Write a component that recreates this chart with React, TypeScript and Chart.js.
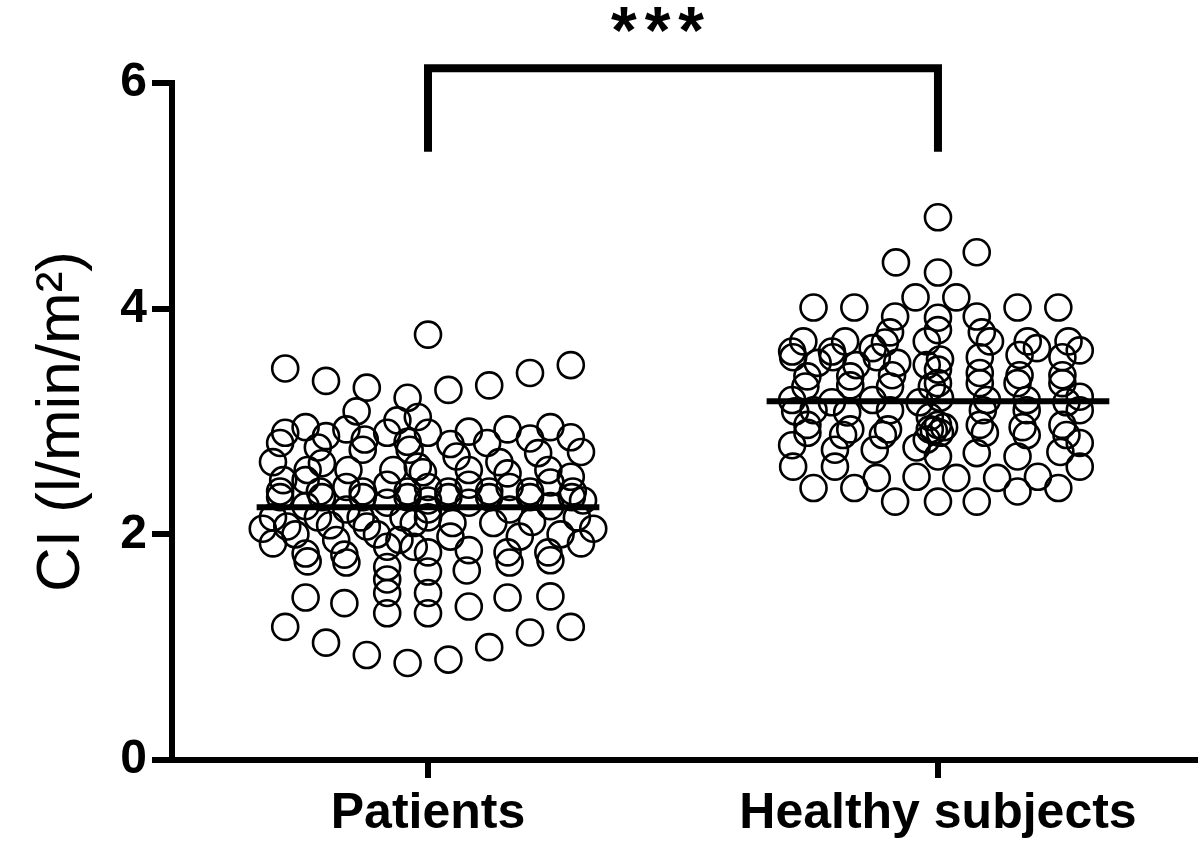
import React, { useEffect, useRef } from "react";
import { Chart, registerables } from "chart.js";

Chart.register(...registerables);

// ---- data ----
const categories = ["Patients", "Healthy subjects"];
const categoryPositions = [0, 25];
const yTicks = [0, 2, 4, 6];
const yTitle = "CI (l/min/m²)";
const significance = ["*", "*", "*"];

// horizontal spread (in dot-column units) and CI values, patients
const patientOffsets = [
  0, -7, -5, -3, -1, 1, 3, 5, 7, -3.5, -1.5, -0.5, -6, -7, -5, -4, -2, -7.25, -7.6, -5.4,
  -3.1, -3.2, -1, -0.9, -7.1, -5.9, -5.2, -3.9, -1.7, -0.5, -7.25, -5.3, -3.2, -1, 2, 3.9,
  6, 7, 7.5, 0, 1.1, 2.9, 5, 5.4, 3.5, 1.4, 2, 3.9, 5.9, -0.25, 7, 1, 3, 5, 7.1, -7.25,
  -5.2, -3.2, -1, 1, 3, 5, 7.05, -7.6, -5.4, -3.3, -1.2, -6.9, -4.8, -3, -0.7, 0, 1.2,
  3.2, 5.1, 7.3, -7.6, -6, -4.1, -2, -1.4, -0.7, 0, -5.9, -4, -2, 0, -2, -6, -4.1, -2, -2,
  0, 0, -7, -5, -3, -1, 7.5, 1.1, 2, 3.9, 5.9, 6, 4, 1.9, 2, 3.9, 6, 7, 5, 3, 1,
  0, 0, -2, 2, -6, 6, -4, 4, 8.1, -8.1, 7.6,
  -6, -4, -2, 0, 2, 4, 6, -6.5, -4.5, -2.5, 4.5, 6.5,
];
const patientValues = [
  3.77, 3.47, 3.36, 3.3, 3.21, 3.28, 3.32, 3.43, 3.5, 3.09, 3.01, 3.04, 2.95, 2.9, 2.87, 2.93, 2.9, 2.81, 2.64, 2.77,
  2.84, 2.75, 2.82, 2.75, 2.48, 2.57, 2.63, 2.57, 2.57, 2.6, 2.38, 2.38, 2.38, 2.38, 2.91, 2.93,
  2.95, 2.86, 2.73, 2.9, 2.8, 2.81, 2.85, 2.72, 2.64, 2.69, 2.57, 2.54, 2.57, 2.55, 2.51, 2.38, 2.38, 2.38, 2.38, 2.33,
  2.33, 2.33, 2.33, 2.33, 2.33, 2.33, 2.33, 2.15, 2.15, 2.15, 2.15, 2.07, 2.08, 2.07, 2.1, 2.15, 2.1,
  2.1, 2.11, 2.15, 1.92, 1.83, 1.82, 1.89, 1.95, 1.89, 1.84, 1.76, 1.75, 1.71, 1.67, 1.6, 1.44, 1.39, 1.48, 1.3,
  1.48, 1.3, 1.18, 1.04, 0.93, 0.86, 1.92, 1.98, 1.86, 1.84, 1.84, 1.77, 1.75, 1.68, 1.36, 1.44, 1.45, 1.18, 1.13, 1.0, 0.89,
  2.3, 2.22, 2.28, 2.28, 2.25, 2.25, 2.22, 2.22, 2.05, 2.05, 2.3,
  2.48, 2.42, 2.44, 2.42, 2.44, 2.42, 2.46, 2.0, 1.95, 2.0, 1.98, 2.0,
];

// horizontal spread and CI values, healthy subjects
const healthyOffsets = [
  0, -2.06, 0, 1.9, -6.1, -4.1, -1.1, 0.9, 3.9, 5.9, -2.1, 0, 1.9, -2.35, 0, 2.15, -6.6, -4.55,
  -2.6, -0.55, 2.55, 4.4, 6.4, -7.15, -5.2, -3.2, 4.85, 6.95, -7.1, -5.15, -3.0, 0.1, 2.05, 4.0,
  6.1, -5.9, -4.0, -2.0, -0.55, 0, -6.4, -4.3, -2.25, 2.05, 4.0, 6.1, -6.5, -4.3, -2.35, -0.3,
  0, 2.05, 3.9, 6.1, -7.15, -5.2, -3.2, -0.9, 0.1, 2.4, 4.35, 6.3, 6.95, -7.0, -6.1, -4.45,
  -2.35, -0.4, 2.2, 4.35, 6.95, -6.4, -6.4, -4.3, -4.65, -2.45, -2.7, -0.4, -0.55, 0, 0.1, 2.05,
  2.3, 4.15, 4.35, 6.1, 6.3, 6.95, -7.15, -5.05, -3.1, -1.05, 0, 1.9, 3.9, 6.0, -7.1, -5.05,
  -3.0, -1.05, 0.9, 2.9, 4.9, 6.95, -6.1, -4.1, -2.1, 0, 1.9, 3.9, 5.9, 0.3, -0.2,
];
const healthyValues = [
  4.81, 4.41, 4.32, 4.5, 4.01, 4.01, 4.1, 4.1, 4.01, 4.01, 3.93, 3.92, 3.93, 3.79, 3.81, 3.79, 3.71, 3.71,
  3.7, 3.71, 3.71, 3.71, 3.71, 3.62, 3.62, 3.65, 3.65, 3.63, 3.57, 3.57, 3.57, 3.55, 3.57, 3.59,
  3.57, 3.52, 3.5, 3.52, 3.5, 3.46, 3.4, 3.4, 3.41, 3.43, 3.41, 3.41, 3.31, 3.32, 3.31, 3.31,
  3.34, 3.34, 3.34, 3.34, 3.19, 3.17, 3.19, 3.17, 3.21, 3.19, 3.19, 3.17, 3.22, 3.09, 3.1, 3.08,
  3.1, 3.04, 3.1, 3.1, 3.1, 2.97, 2.9, 2.93, 2.88, 2.93, 2.88, 2.93, 2.84, 2.97, 2.9, 2.97,
  2.9, 2.95, 2.88, 2.97, 2.88, 2.81, 2.79, 2.75, 2.75, 2.77, 2.69, 2.72, 2.69, 2.73, 2.6, 2.6,
  2.5, 2.51, 2.5, 2.5, 2.51, 2.6, 2.41, 2.41, 2.29, 2.29, 2.29, 2.38, 2.41, 2.95, 2.92,
];

const groupMeans = [2.24, 3.18];
const meanHalfWidth = [8.4, 8.4];
const bracketLow = 5.39;
const bracketHigh = 6.13;
const starCenters = [9.6, 11.25, 12.9];
const starBaseline = 6.27;

const FONT = "'Liberation Sans', Arial, Helvetica, sans-serif";

export default function App() {
  const ref = useRef<HTMLCanvasElement | null>(null);

  useEffect(() => {
    if (!ref.current) return;

    const pts = (offs: number[], vals: number[], center: number) =>
      vals.map((v, i) => ({ x: center + offs[i], y: v }));

    const dotStyle = {
      type: "scatter" as const,
      pointStyle: "circle",
      pointRadius: 13,
      pointHoverRadius: 13,
      pointBorderWidth: 2.6,
      pointBorderColor: "#000",
      pointBackgroundColor: "rgba(0,0,0,0)",
      showLine: false,
    };

    const meanDatasets = groupMeans.map((m, i) => ({
      type: "line" as const,
      data: [
        { x: categoryPositions[i] - meanHalfWidth[i], y: m },
        { x: categoryPositions[i] + meanHalfWidth[i], y: m },
      ],
      borderColor: "#000",
      borderWidth: 6,
      pointRadius: 0,
      borderCapStyle: "butt",
    }));

    const starPlugin = {
      id: "stars",
      afterDatasetsDraw(chart: any) {
        const { ctx, scales } = chart;
        const y = scales.y.getPixelForValue(starBaseline);
        ctx.save();
        ctx.fillStyle = "#000";
        ctx.font = `bold 66px ${FONT}`;
        ctx.textAlign = "center";
        ctx.textBaseline = "alphabetic";
        significance.forEach((s, i) => {
          ctx.fillText(s, scales.x.getPixelForValue(starCenters[i]), y);
        });
        ctx.restore();
      },
    };

    const chart = new Chart(ref.current, {
      type: "scatter",
      data: {
        datasets: [
          { ...dotStyle, data: pts(patientOffsets, patientValues, categoryPositions[0]) },
          { ...dotStyle, data: pts(healthyOffsets, healthyValues, categoryPositions[1]) },
          ...meanDatasets,
          {
            type: "line" as const,
            data: [
              { x: categoryPositions[0], y: bracketLow },
              { x: categoryPositions[0], y: bracketHigh },
              { x: categoryPositions[1], y: bracketHigh },
              { x: categoryPositions[1], y: bracketLow },
            ],
            borderColor: "#000",
            borderWidth: 8,
            pointRadius: 0,
            borderJoinStyle: "miter",
            clip: false,
          },
        ] as any,
      },
      options: {
        animation: false,
        responsive: true,
        maintainAspectRatio: false,
        layout: { autoPadding: false, padding: { top: 83, right: 5, left: 0, bottom: 0 } },
        plugins: { legend: { display: false }, tooltip: { enabled: false } },
        scales: {
          x: {
            type: "linear",
            min: -12.55,
            max: 37.6,
            afterFit: (s: any) => {
              s.height = 94;
            },
            afterBuildTicks: (s: any) => {
              s.ticks = categoryPositions.map((v) => ({ value: v }));
            },
            border: { display: true, width: 6, color: "#000" },
            grid: { drawOnChartArea: false, drawTicks: true, tickLength: 18, lineWidth: 6, color: "#000" },
            ticks: {
              color: "#000",
              font: { family: FONT, size: 50, weight: "bold" },
              padding: 6,
              maxRotation: 0,
              autoSkip: false,
              callback: (v: any) => {
                const idx = categoryPositions.indexOf(Number(v));
                return idx >= 0 ? categories[idx] : "";
              },
            },
          },
          y: {
            type: "linear",
            min: 0,
            max: 6,
            afterFit: (s: any) => {
              s.width = 172;
            },
            afterBuildTicks: (s: any) => {
              s.ticks = yTicks.map((v) => ({ value: v }));
            },
            border: { display: true, width: 6, color: "#000" },
            grid: { drawOnChartArea: false, drawTicks: true, tickLength: 20, lineWidth: 6, color: "#000" },
            ticks: {
              color: "#000",
              font: { family: FONT, size: 48, weight: "bold" },
              padding: 5,
            },
            title: {
              display: true,
              text: yTitle,
              color: "#000",
              font: { family: FONT, size: 62, weight: "normal" },
              padding: { top: 25, bottom: 0 },
            },
          },
        },
      },
      plugins: [starPlugin],
    });

    return () => chart.destroy();
  }, []);

  return (
    <div style={{ position: "absolute", left: 0, top: 0, width: 1200, height: 854, background: "#fff" }}>
      <canvas ref={ref} />
    </div>
  );
}
